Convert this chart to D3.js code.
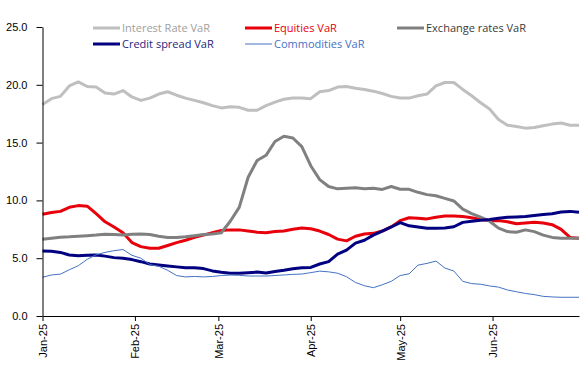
<!DOCTYPE html>
<html>
<head>
<meta charset="utf-8">
<script src="https://cdn.jsdelivr.net/npm/d3@7"></script>
<style>
  body { margin: 0; background: #fff; }
  svg { font-family: "Open Sans", sans-serif; }
  .axis text { font-size: 11px; fill: #000; }
  .axis path, .axis line { stroke: #000; }
  .legend text { font-size: 11px; }
</style>
</head>
<body>
<div id="chart"></div>
<script>
// observation dates: every 3 days, 1 Jan - 30 Jun 2025
var dates = d3.timeDay.range(new Date(2025, 0, 1), new Date(2025, 6, 1), 3);

var interestRate = [18.3, 18.8, 19.0, 19.9, 20.25, 19.85, 19.8, 19.3, 19.2, 19.5,
  18.95, 18.65, 18.85, 19.2, 19.4, 19.1, 18.85, 18.65, 18.45, 18.2,
  18.0, 18.1, 18.05, 17.8, 17.8, 18.2, 18.5, 18.75, 18.85, 18.85,
  18.8, 19.4, 19.5, 19.8, 19.85, 19.7, 19.6, 19.45, 19.25, 19.0,
  18.85, 18.85, 19.05, 19.2, 19.9, 20.2, 20.2, 19.6, 19.05, 18.45,
  17.9, 17.0, 16.5, 16.4, 16.25, 16.3, 16.45, 16.6, 16.7, 16.5, 16.5];

var equities = [8.8, 8.95, 9.05, 9.4, 9.55, 9.5, 8.85, 8.15, 7.7, 7.2,
  6.35, 6.0, 5.86, 5.86, 6.1, 6.35, 6.55, 6.8, 7.0, 7.2,
  7.4, 7.45, 7.45, 7.35, 7.25, 7.2, 7.3, 7.35, 7.5, 7.62,
  7.55, 7.35, 7.05, 6.65, 6.5, 6.9, 7.1, 7.15, 7.35, 7.7,
  8.25, 8.5, 8.45, 8.4, 8.55, 8.65, 8.65, 8.6, 8.5, 8.35,
  8.25, 8.25, 8.15, 7.98, 8.05, 8.1, 8.05, 7.9, 7.5, 6.8, 6.72];

var exchangeRates = [6.63, 6.72, 6.82, 6.85, 6.9, 6.95, 7.0, 7.08, 7.05, 7.0,
  7.08, 7.1, 7.05, 6.9, 6.8, 6.8, 6.85, 6.95, 7.05, 7.1,
  7.2, 8.2, 9.4, 12.0, 13.45, 13.9, 15.1, 15.55, 15.4, 14.65,
  13.0, 11.8, 11.2, 11.0, 11.05, 11.1, 11.0, 11.05, 10.95, 11.2,
  10.96, 10.96, 10.7, 10.5, 10.4, 10.18, 9.95, 9.25, 8.85, 8.55,
  8.2, 7.6, 7.3, 7.25, 7.45, 7.3, 7.0, 6.8, 6.72, 6.72, 6.72];

var creditSpread = [5.62, 5.6, 5.5, 5.28, 5.22, 5.25, 5.28, 5.18, 5.05, 5.0,
  4.88, 4.7, 4.5, 4.42, 4.33, 4.25, 4.18, 4.18, 4.1, 3.9,
  3.78, 3.69, 3.69, 3.75, 3.8, 3.72, 3.85, 3.95, 4.08, 4.18,
  4.2, 4.5, 4.7, 5.35, 5.7, 6.3, 6.55, 7.0, 7.35, 7.7,
  8.08, 7.8, 7.7, 7.6, 7.59, 7.62, 7.72, 8.1, 8.2, 8.28,
  8.35, 8.45, 8.54, 8.57, 8.6, 8.7, 8.78, 8.85, 9.0, 9.05, 8.97];

var commodities = [3.35, 3.55, 3.62, 4.0, 4.35, 4.9, 5.3, 5.5, 5.65, 5.75,
  5.25, 5.0, 4.45, 4.3, 3.95, 3.5, 3.38, 3.42, 3.38, 3.42,
  3.5, 3.54, 3.52, 3.46, 3.46, 3.46, 3.5, 3.55, 3.6, 3.63,
  3.75, 3.88, 3.82, 3.7, 3.4, 2.9, 2.62, 2.45, 2.7, 3.0,
  3.5, 3.65, 4.4, 4.55, 4.75, 4.15, 3.89, 3.0, 2.8, 2.75,
  2.6, 2.5, 2.25, 2.1, 1.95, 1.85, 1.7, 1.65, 1.62, 1.62, 1.62];

var yTicks = [0, 5, 10, 15, 20, 25];

var series = [
  {name: 'Interest Rate VaR', values: interestRate, color: '#bfbfbf', text: '#a0a0a0', width: 3},
  {name: 'Equities VaR', values: equities, color: '#e8000b', text: '#e8000b', width: 3},
  {name: 'Exchange rates VaR', values: exchangeRates, color: '#808080', text: '#3a3a3a', width: 3},
  {name: 'Credit spread VaR', values: creditSpread, color: '#000080', text: '#262680', width: 3},
  {name: 'Commodities VaR', values: commodities, color: '#4472c4', text: '#4472c4', width: 1}
];

const width = 588;
const height = 374;
const margin = {top: 27, right: 9, bottom: 58, left: 42.5};

const svg = d3.select('#chart')
  .append('svg')
  .attr('width', width)
  .attr('height', height);

const xScale = d3.scaleTime()
  .domain([new Date(2025, 0, 1), new Date(2025, 5, 30)])
  .range([margin.left, width - margin.right]);
const yScale = d3.scaleLinear()
  .domain([0, 25])
  .range([height - margin.bottom, margin.top]);

// lines
const line = d3.line()
  .x((d, i) => xScale(dates[i]))
  .y(d => yScale(d));

svg.selectAll('.series')
  .data(series)
  .enter()
  .append('path')
  .classed('series', true)
  .attr('fill', 'none')
  .attr('stroke', d => d.color)
  .attr('stroke-width', d => d.width)
  .attr('stroke-linejoin', 'round')
  .attr('d', d => line(d.values));

// axes
const xAxis = d3.axisBottom(xScale)
  .ticks(d3.timeMonth.every(1))
  .tickFormat(d3.timeFormat('%b-%y'))
  .tickSize(5)
  .tickSizeOuter(0);

svg.append('g')
  .classed('x axis', true)
  .attr('transform', `translate(0,${height - margin.bottom})`)
  .call(xAxis)
  .selectAll('text')
  .attr('transform', 'rotate(-90)')
  .attr('text-anchor', 'end')
  .attr('x', -8)
  .attr('y', 0)
  .attr('dy', '0.35em');

const yAxis = d3.axisLeft(yScale)
  .tickValues(yTicks)
  .tickFormat(d3.format('.1f'))
  .tickSize(6)
  .tickPadding(9)
  .tickSizeOuter(0);

svg.append('g')
  .classed('y axis', true)
  .attr('transform', `translate(${margin.left},0)`)
  .call(yAxis);

// legend
const legendPos = [
  {x: 93, y: 28}, {x: 245, y: 28}, {x: 397, y: 28},
  {x: 93, y: 44}, {x: 245, y: 44}
];

const legend = svg.append('g').classed('legend', true)
  .selectAll('g')
  .data(series)
  .enter()
  .append('g')
  .attr('transform', (d, i) => `translate(${legendPos[i].x},${legendPos[i].y})`);

legend.append('line')
  .attr('x1', 0).attr('x2', 27)
  .attr('y1', 0).attr('y2', 0)
  .attr('stroke', d => d.color)
  .attr('stroke-width', d => d.width);

legend.append('text')
  .attr('x', 29)
  .attr('dy', '0.35em')
  .attr('fill', d => d.text)
  .text(d => d.name);
</script>
</body>
</html>
